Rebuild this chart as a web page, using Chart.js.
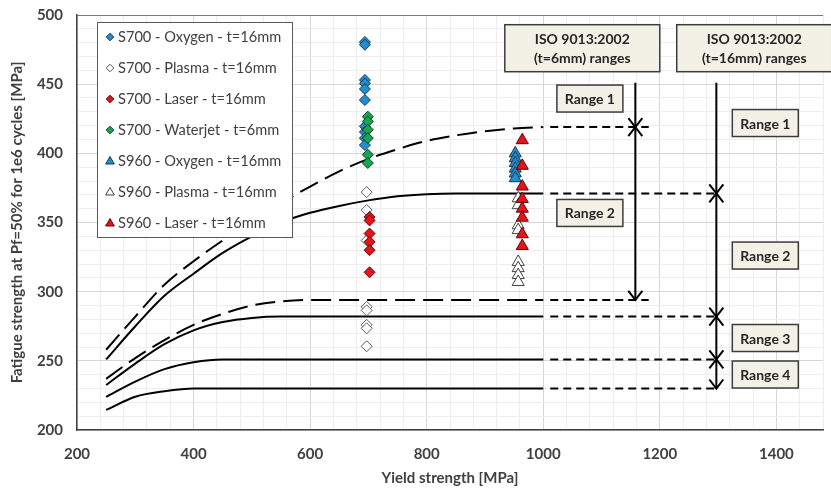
<!DOCTYPE html>
<html><head><meta charset="utf-8">
<script src="https://cdn.jsdelivr.net/npm/chart.js@4.4.1/dist/chart.umd.min.js"></script>
<style>html,body{margin:0;padding:0;background:#fff;overflow:hidden}canvas{display:block}</style>
</head><body>
<canvas id="c" width="831" height="492"></canvas>
<script>
// ---- tick labels ----
const xTickLabels = [200, 400, 600, 800, 1000, 1200, 1400];
const yTickLabels = [200, 250, 300, 350, 400, 450, 500];

// ---- measured series (yield strength x, fatigue strength y) ----
const seriesLabels = ['S700 - Oxygen - t=16mm', 'S700 - Plasma - t=16mm', 'S700 - Laser - t=16mm',
  'S700 - Waterjet - t=6mm', 'S960 - Oxygen - t=16mm', 'S960 - Plasma - t=16mm', 'S960 - Laser - t=16mm'];
const s700OxygenX = 694;
const s700Oxygen = [480.5, 478.5, 453, 450.5, 446.5, 438.5, 419.5, 415.5, 411, 406];
const s700PlasmaX = 697;
const s700Plasma = [372, 359, 337, 289, 286.5, 276, 273.5, 260.5];
const s700LaserX = 702;
const s700Laser = [354, 351.5, 342, 336, 330, 314];
const s700WaterjetX = 699;
const s700Waterjet = [426.5, 423, 417, 411, 399, 393];
const s960OxygenX = 952;
const s960Oxygen = [400, 396.5, 393, 389, 385.5, 382];
const s960PlasmaX = 957;
const s960Plasma = [367.5, 362.5, 348, 344.5, 321.5, 317, 312, 307];
const s960LaserX = 964;
const s960Laser = [409.5, 391, 376, 367, 360, 353.5, 341.5, 333];

// ---- ISO 9013 range curves ----
const curveX = [250, 300, 350, 400, 450, 500, 550, 600, 650, 700, 750, 800, 850, 900, 950, 1000];
const t6Range1 = [258, 282, 305, 322, 337, 351, 364, 376, 387, 396, 403, 409, 413, 416, 418, 419];
const t16Range1 = [251, 275, 297, 313, 328, 340, 350, 357, 362, 366, 369, 370.5, 371, 371, 371, 371];
const t6Range2 = [237, 252, 265, 276, 284, 290, 293, 294, 294, 294, 294, 294, 294, 294, 294, 294];
const t16Range2 = [232.5, 248, 262, 272, 278, 281, 282, 282, 282, 282, 282, 282, 282, 282, 282, 282];
const t16Range3 = [224, 235, 244, 249, 251, 251, 251, 251, 251, 251, 251, 251, 251, 251, 251, 251];
const t16Range4 = [214.5, 224, 228, 230, 230, 230, 230, 230, 230, 230, 230, 230, 230, 230, 230, 230];

// ---- range extensions and arrows ----
const extStart = 1012;
const ext6Levels = [419, 294];
const ext6End = 1181;
const ext16Levels = [371, 282, 251, 230];
const ext16End = 1300;
const arrow6X = 1158;
const arrow16X = 1297;
const arrowTop = 451;
const arrow6Heads = [[419, 'down'], [419, 'up'], [294, 'down']];
const arrow16Heads = [[371, 'down'], [371, 'up'], [282, 'down'], [282, 'up'], [251, 'down'], [251, 'up'], [230, 'down']];

// ---- annotation boxes (data-coordinate centres) ----
const noteTexts = [['ISO 9013:2002', '(t=6mm) ranges'], ['ISO 9013:2002', '(t=16mm) ranges'],
  ['Range 1'], ['Range 2'], ['Range 1'], ['Range 2'], ['Range 3'], ['Range 4']];
const noteX = [1067, 1362, 1080, 1080, 1381, 1381, 1381, 1381];
const noteY = [476, 476, 439.6, 356.9, 421.9, 326.1, 266.5, 240.1];

// ---------------------------------------------------------------
const pts = (x, ys) => ys.map(v => ({x: x, y: v}));
const crv = ys => ys.map((v, i) => ({x: curveX[i], y: v}));

const BLUE = '#1f8fd0', GREEN = '#16a651', RED = '#e5141c';
const styles = [
  {pointStyle: 'rectRot', bg: BLUE, bc: '#1c3550', r: 5.5},
  {pointStyle: 'rectRot', bg: '#ffffff', bc: '#5a5a5a', r: 5.5},
  {pointStyle: 'rectRot', bg: RED, bc: '#5a0a0a', r: 5.5},
  {pointStyle: 'rectRot', bg: GREEN, bc: '#0e3d22', r: 5.5},
  {pointStyle: 'triangle', bg: BLUE, bc: '#1c3550', r: 7},
  {pointStyle: 'triangle', bg: '#ffffff', bc: '#404040', r: 7},
  {pointStyle: 'triangle', bg: RED, bc: '#5a0a0a', r: 7}
];
const seriesData = [
  pts(s700OxygenX, s700Oxygen), pts(s700PlasmaX, s700Plasma), pts(s700LaserX, s700Laser),
  pts(s700WaterjetX, s700Waterjet), pts(s960OxygenX, s960Oxygen), pts(s960PlasmaX, s960Plasma),
  pts(s960LaserX, s960Laser)
];

const datasets = [];
seriesData.forEach((d, i) => {
  const s = styles[i];
  datasets.push({
    label: seriesLabels[i], data: d, showLine: false,
    pointStyle: s.pointStyle, pointRadius: s.r, pointHoverRadius: s.r,
    backgroundColor: s.bg, borderColor: s.bc, pointBorderWidth: 1,
    order: 10 - i, isSeries: true
  });
});
const lineDs = (data, dash, width) => ({
  data: data, showLine: true, pointRadius: 0, borderColor: '#000', borderWidth: width || 2,
  borderDash: dash || [], tension: 0.4, cubicInterpolationMode: 'monotone', order: 50, fill: false
});
datasets.push(lineDs(crv(t6Range1), [20, 8]));
datasets.push(lineDs(crv(t16Range1)));
datasets.push(lineDs(crv(t6Range2), [20, 8]));
datasets.push(lineDs(crv(t16Range2)));
datasets.push(lineDs(crv(t16Range3)));
datasets.push(lineDs(crv(t16Range4)));
ext6Levels.forEach(v => datasets.push(lineDs([{x: extStart, y: v}, {x: ext6End, y: v}], [8, 5])));
ext16Levels.forEach(v => datasets.push(lineDs([{x: extStart, y: v}, {x: ext16End, y: v}], [8, 5])));
datasets.push(lineDs([{x: arrow6X, y: arrowTop}, {x: arrow6X, y: ext6Levels[ext6Levels.length - 1]}], [], 2));
datasets.push(lineDs([{x: arrow16X, y: arrowTop}, {x: arrow16X, y: ext16Levels[ext16Levels.length - 1]}], [], 2));

const FONT = 'Lato, "Open Sans", sans-serif';

function drawMarker(ctx, style, x, y, r) {
  ctx.beginPath();
  if (style === 'rectRot') {
    ctx.moveTo(x, y - r); ctx.lineTo(x + r, y); ctx.lineTo(x, y + r); ctx.lineTo(x - r, y);
  } else {
    ctx.moveTo(x, y - r); ctx.lineTo(x + r * 0.866, y + r / 2); ctx.lineTo(x - r * 0.866, y + r / 2);
  }
  ctx.closePath();
}

const overlay = {
  id: 'overlay',
  afterDatasetsDraw(chart) {
    const {ctx, chartArea} = chart;
    const xs = chart.scales.x, ys = chart.scales.y;
    ctx.save();
    // arrow heads
    ctx.strokeStyle = '#000'; ctx.lineWidth = 2; ctx.setLineDash([]);
    const heads = (ax, list) => list.forEach(([v, dir]) => {
      const px = xs.getPixelForValue(ax), py = ys.getPixelForValue(v);
      const s = dir === 'down' ? -1 : 1;
      ctx.beginPath();
      ctx.moveTo(px - 7, py + s * 9); ctx.lineTo(px, py); ctx.lineTo(px + 7, py + s * 9);
      ctx.stroke();
    });
    heads(arrow6X, arrow6Heads);
    heads(arrow16X, arrow16Heads);

    // annotation boxes
    noteTexts.forEach((lines, i) => {
      const cx = xs.getPixelForValue(noteX[i]), cy = ys.getPixelForValue(noteY[i]);
      const w = lines.length > 1 ? 155 : 66, h = lines.length > 1 ? 47 : 27;
      ctx.fillStyle = '#f3f0e6'; ctx.strokeStyle = '#3c3c3c'; ctx.lineWidth = 1.5;
      ctx.fillRect(cx - w / 2, cy - h / 2, w, h);
      ctx.strokeRect(cx - w / 2, cy - h / 2, w, h);
      ctx.fillStyle = '#262626';
      ctx.font = 'bold 14px ' + FONT;
      ctx.textAlign = 'center'; ctx.textBaseline = 'middle';
      const lh = 19;
      lines.forEach((t, j) => ctx.fillText(t, cx, cy + (j - (lines.length - 1) / 2) * lh + 1));
    });

    // legend
    const lx = chartArea.left + 20, ly = chartArea.top + 7, lw = 195, lhgt = 215;
    ctx.fillStyle = '#fff'; ctx.fillRect(lx, ly, lw, lhgt);
    ctx.strokeStyle = '#595959'; ctx.lineWidth = 1; ctx.strokeRect(lx + 0.5, ly + 0.5, lw, lhgt);
    ctx.font = '14.6px ' + FONT; ctx.textAlign = 'left'; ctx.textBaseline = 'middle';
    chart.data.datasets.filter(d => d.isSeries).forEach((d, i) => {
      const yy = ly + 15 + i * 31;
      const mr = d.pointStyle === 'triangle' ? 5 : 3.8;
      drawMarker(ctx, d.pointStyle, lx + 13, yy + (d.pointStyle === 'triangle' ? 0.5 : 0), mr);
      ctx.fillStyle = d.backgroundColor; ctx.fill();
      ctx.strokeStyle = d.borderColor; ctx.lineWidth = 1; ctx.stroke();
      ctx.fillStyle = '#404040';
      ctx.fillText(d.label, lx + 21, yy);
    });
    ctx.restore();
  }
};

new Chart(document.getElementById('c'), {
  type: 'scatter',
  data: {datasets: datasets},
  options: {
    responsive: false, animation: false,
    layout: {padding: {top: 15, right: 0, left: 0, bottom: 0}},
    plugins: {legend: {display: false}, tooltip: {enabled: false}},
    scales: {
      x: {
        type: 'linear', min: 200, max: 1480,
        ticks: {stepSize: 40, autoSkip: false, maxRotation: 0, minRotation: 0, padding: 15,
          color: '#404040', font: {family: FONT, size: 15, weight: 'bold'},
          callback: v => xTickLabels.includes(v) ? String(v) : ''},
        grid: {drawTicks: false, color: c => (c.tick && c.tick.value % 200 === 0) ? '#d6d6d6' : '#ededed'},
        border: {display: true, color: '#404040', width: 1.5},
        title: {display: true, text: 'Yield strength [MPa]', color: '#404040',
          font: {family: FONT, size: 15, weight: 'bold'}, padding: {top: 0, bottom: 5}},
        afterFit: s => { s.height = 62; s.paddingLeft = 0; s.paddingRight = 0; }
      },
      y: {
        type: 'linear', min: 200, max: 500,
        ticks: {stepSize: 10, autoSkip: false, padding: 14, color: '#404040',
          font: {family: FONT, size: 15, weight: 'bold'},
          callback: v => yTickLabels.includes(v) ? String(v) : ''},
        grid: {drawTicks: false, color: c => (c.tick && c.tick.value === 500) ? '#7a7a7a' :
          ((c.tick && c.tick.value % 50 === 0) ? '#d6d6d6' : '#ededed')},
        border: {display: true, color: '#404040', width: 1.5},
        title: {display: true, text: 'Fatigue strength at Pf=50% for 1e6 cycles [MPa]', color: '#404040',
          font: {family: FONT, size: 15, weight: 'bold'}, padding: {top: 8, bottom: 0}},
        afterFit: s => { s.width = 77; s.paddingTop = 0; s.paddingBottom = 0; }
      }
    }
  },
  plugins: [overlay]
});
</script>
</body></html>
